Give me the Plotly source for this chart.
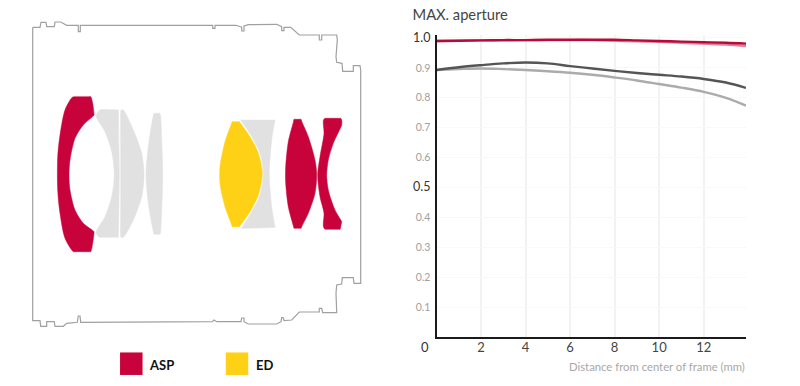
import plotly.graph_objects as go

# ---- MTF chart data ----
distance = [0, 1, 2, 3, 4, 5, 6, 7, 8, 9, 10, 11, 12, 13, 13.9]
red_dark = [0.990, 0.991, 0.992, 0.993, 0.993, 0.994, 0.994, 0.994, 0.994, 0.992, 0.990, 0.988, 0.986, 0.984, 0.981]
red_pale = [0.990, 0.991, 0.992, 0.992, 0.993, 0.993, 0.993, 0.993, 0.991, 0.989, 0.987, 0.984, 0.981, 0.978, 0.973]
grey_dark = [0.893, 0.902, 0.909, 0.915, 0.918, 0.915, 0.906, 0.898, 0.890, 0.883, 0.877, 0.871, 0.863, 0.851, 0.833]
grey_pale = [0.893, 0.896, 0.898, 0.896, 0.893, 0.889, 0.884, 0.877, 0.868, 0.858, 0.846, 0.834, 0.820, 0.800, 0.774]

x_ticks = [2, 4, 6, 8, 10, 12]
y_ticks = [0.1, 0.2, 0.3, 0.4, 0.5, 0.6, 0.7, 0.8, 0.9, 1.0]

# ---- Lens construction diagram (drawn on a 800x386 canvas axis) ----
housing = [
    (32.7,27.3),(40,27.3),(41,22.3),(46,22.3),(46.7,26.7),(54.3,26.7),(55,22),(60.7,22),(66.7,25.3),(78.3,25.3),
    (78.3,31.7),(80.3,31.7),(80.3,25.3),(212.7,25.3),(212.7,28.3),(215,28.3),(215,25.3),(236,25.3),(241.7,27.3),
    (241.7,31),(244,31),(244,26),(248.3,24.7),(276.7,24.3),(281.7,26.7),(281.7,30.7),(284,30.7),(284,27.3),
    (290.7,27.3),(299.3,35),(319.3,35),(319.3,40),(321.7,40),(321.7,35),(336.7,35),(337.3,40),(336,56.7),
    (336.7,62.3),(342,63.3),(342.7,71.3),(353.3,71.3),(353.3,65.7),(360,65.7),(360.7,70),
    (360.7,283.3),(354,283.3),(353.3,277.7),(342.3,277.7),(341.7,284),(336.7,285),(336,293.3),(336.7,312.7),
    (322.7,312.7),(321.7,308.3),(319.3,308.3),(319.3,312),(299.3,312),(291.7,320),(284,320.7),(283.3,317.7),
    (281.7,317.7),(281,321.7),(276.7,324),(248.3,324),(244,321.7),(244,318),(241.7,318),(241,321.7),(216.7,321.7),
    (214,320),(212.3,321.7),(80.7,322.3),(80,316),(78.3,316),(77.3,322.3),(66.7,323.3),(63.3,326.3),(55,326.3),
    (54.3,321.7),(46.7,321.7),(46.7,326.3),(40.7,326.3),(40,320.7),(32.7,320.7),(32.7,27.3),
]
lens_asp_front = [
    (74,96.7),(75,96.7),(89,96.7),(90.7,96.7),(92.7,103.3),(94,114),(94,115),(83.3,125),(75,138.3),(70,160),(69,175),(70,190),(75,210),
    (83.3,223.3),(94,231.7),(94,233),(92.7,243.3),(90.7,251.7),(89,251.7),(75,251.7),(73.3,251.7),(65,238.3),(60,213.3),(57.7,190),(57.7,156.7),
    (60,135),(65,110),(72,97.5),
]
lens_grey_a = [
    (100,110),(117,110),(118.3,110),(118.4,112),(119,146.7),(119.3,175),(119,203.3),(118.4,235),(118.3,237.3),(117,237.3),(100,237.3),(99.3,237.3),(96,232.7),(105,216.7),
    (111.7,196.7),(114.3,175),(111.7,151.7),(105,131.7),(96,116),(98,112),
]
lens_grey_b = [
    (121,110),(123.3,110),(133.3,130),(141.7,153.3),(144,175),(141.7,196.7),(133.3,220),(123.3,237.3),(121,237.3),
    (120.7,236),(120.7,203.3),(120.7,175),(120.7,146.7),(120.7,112),
]
lens_grey_c = [
    (154,113.3),(155,113.3),(159,113.3),(160,113.3),(160.6,116),(162,146.7),(162.7,175),(162,203.3),(160.6,231),(160,234.3),(159,234.3),(155,234.3),(154,234.3),(153.2,231),
    (148.3,203.3),(146,175),(148.3,146.7),(153.2,116),
]
lens_ed = [
    (232.3,121.7),(233.5,121.7),(238,121.7),(239.3,121.7),(241,124),(250,136.7),(258.3,153.3),(262.3,173.3),(258.3,195),(250,211.7),(241,224.5),(239.3,226.7),(238,226.7),(233.5,226.7),
    (232.3,226.7),(231,223),(225,206.7),(220,183.3),(220,166.7),(225,141.7),(231,125),
]
lens_grey_d = [
    (240.7,120),(242,120),(273,120),(275,120),(274.6,122),(271.7,140),(269.3,173.3),(271.7,206.7),(274.6,225),(275,227.3),(273,227.5),(243,228.3),(241.7,228.3),(243,226),(251.7,211.7),(260,195),
    (263.3,173.3),(260,153.3),(251.7,136.7),(242,122),
]
lens_asp_b = [
    (294,119.3),(295,119.3),(300,119.3),(301,119.3),(302,122),(308.3,136.7),(315,160),(316.7,175),(315,193.3),(308.3,213.3),(302,226),(301,228.3),(300,228.3),(295,228.3),(294,228.3),
    (293.4,226),(288.3,206.7),(285.7,183.3),(285.7,166.7),(288.3,141.7),(293.4,122),
]
lens_asp_c = [
    (325,118.3),(326,118.3),(339.5,118.3),(340.7,118.3),(341.7,120),(341.7,125),(340,129),(333.3,143.3),(328.3,160),(326.7,175),(328.3,190),(335,210),(340.5,219.5),(341.7,221.7),
    (341.2,224),(340,229.3),(338.5,229.3),(326,229.3),(325,229.3),(323.5,227),(323.3,223.3),(324,213.3),(320,196.7),(317.7,175),(320,156.7),(324,133.3),(323.3,124),(323.5,120),
]
legend_names = ["ASP", "ED"]
legend_x = [131.3, 237]
legend_y = [363.7, 363.7]

RED = "#c8023a"
YELLOW = "#ffd116"
GREY = "#e1e1e1"
W, H = 800, 386


def poly(pts, color):
    xs = [p[0] for p in pts] + [pts[0][0]]
    ys = [p[1] for p in pts] + [pts[0][1]]
    return go.Scatter(x=xs, y=ys, xaxis="x2", yaxis="y2", mode="lines", fill="toself", fillcolor=color,
                      line=dict(color=color, width=0.5, shape="spline", smoothing=0.8, simplify=False),
                      hoverinfo="skip")


fig = go.Figure()

# lens diagram
fig.add_trace(go.Scatter(x=[p[0] for p in housing], y=[p[1] for p in housing], xaxis="x2", yaxis="y2",
                         mode="lines", line=dict(color="#a0a0a0", width=1.2), hoverinfo="skip"))
for pts, col in [(lens_asp_front, RED), (lens_grey_a, GREY), (lens_grey_b, GREY), (lens_grey_c, GREY),
                 (lens_grey_d, GREY), (lens_ed, YELLOW), (lens_asp_b, RED), (lens_asp_c, RED)]:
    fig.add_trace(poly(pts, col))
fig.add_trace(go.Scatter(x=legend_x, y=legend_y, xaxis="x2", yaxis="y2", mode="markers",
                         marker=dict(symbol="square", size=22.5, color=[RED, YELLOW]),
                         text=legend_names, hoverinfo="text"))

# MTF curves
for vals, col in [(grey_pale, "#ababab"), (grey_dark, "#555558"), (red_pale, "#e2809a"), (red_dark, "#b80a38")]:
    fig.add_trace(go.Scatter(x=distance, y=vals, mode="lines", line=dict(color=col, width=2.4, shape="spline"),
                             hoverinfo="x+y"))


def y_label(v):
    if v in (0.5, 1.0):
        return f'<span style="font-size:12.5px;color:#333333">{v:.1f}</span>'
    return f"{v:.1f}"


fig.update_layout(
    width=W, height=H, margin=dict(l=0, r=0, t=0, b=0, pad=0, autoexpand=False),
    paper_bgcolor="white", plot_bgcolor="rgba(0,0,0,0)", showlegend=False,
    font=dict(family="Lato, Noto Sans, sans-serif"),
    title=dict(text="MAX. aperture", x=412.5 / W, xanchor="left", y=1 - 15 / H, yanchor="middle",
               font=dict(size=14.7, color="#444444", family="Lato")),
    xaxis=dict(domain=[436.5 / W, 746 / W], range=[0, 13.9], tickvals=x_ticks, ticks="", ticklabelstandoff=-3,
               tickfont=dict(size=13, color="#444444", family="Lato"),
               showgrid=True, gridcolor="#f2f2f2", gridwidth=1.5, zeroline=False,
               showline=True, linecolor="#1a1a1a", linewidth=2, anchor="y", layer="above traces"),
    yaxis=dict(domain=[1 - 337 / H, 1 - 35 / H], range=[0, 1.01], tickvals=y_ticks,
               ticktext=[y_label(v) for v in y_ticks], ticks="outside", ticklen=2, tickcolor="rgba(0,0,0,0)",
               tickfont=dict(size=10.5, color="#a0a0a0", family="Lato"),
               showgrid=True, gridcolor="#f8f8f8", gridwidth=1, zeroline=False,
               showline=True, linecolor="#1a1a1a", linewidth=2, anchor="x", layer="above traces"),
    xaxis2=dict(domain=[0, 1], range=[0, W], visible=False, fixedrange=True, anchor="y2"),
    yaxis2=dict(domain=[0, 1], range=[H, 0], visible=False, fixedrange=True, anchor="x2"),
    annotations=[
        dict(text="0", xref="paper", yref="paper", x=425 / W, y=1 - 347 / H, xanchor="center", yanchor="middle",
             showarrow=False, font=dict(size=13, color="#333333", family="Lato")),
        dict(text="Distance from center of frame (mm)", xref="paper", yref="paper", x=746.5 / W, y=1 - 366 / H,
             xanchor="right", yanchor="middle", showarrow=False, font=dict(size=11.3, color="#a8a8a8", family="Lato")),
        dict(text="<b>ASP</b>", xref="paper", yref="paper", x=147 / W, y=1 - 364.5 / H, xanchor="left",
             yanchor="middle", showarrow=False, font=dict(size=13, color="#111111", family="Lato")),
        dict(text="<b>ED</b>", xref="paper", yref="paper", x=254 / W, y=1 - 364.5 / H, xanchor="left",
             yanchor="middle", showarrow=False, font=dict(size=13, color="#111111", family="Lato")),
    ],
)

fig.write_html("out.html", post_script="document.body.style.margin='0';", config=dict(displayModeBar=False))
